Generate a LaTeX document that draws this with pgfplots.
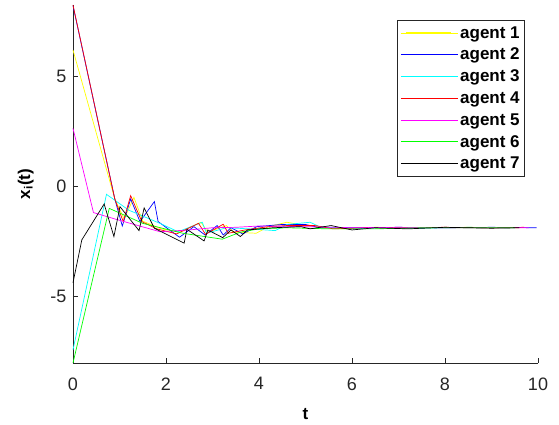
\documentclass[border=0pt]{standalone}
\usepackage{fontspec}
\setmainfont{Liberation Sans}
\usepackage{pgfplots}
\pgfplotsset{compat=1.18}
\definecolor{axgray}{rgb}{0.15,0.15,0.15}
\definecolor{cY}{rgb}{1,1,0}
\definecolor{cB}{rgb}{0,0,1}
\definecolor{cC}{rgb}{0,1,1}
\definecolor{cR}{rgb}{1,0,0}
\definecolor{cM}{rgb}{1,0,1}
\definecolor{cG}{rgb}{0,1,0}
\definecolor{cK}{rgb}{0,0,0}
\begin{document}
\begin{tikzpicture}
\begin{axis}[
  scale only axis,
  width=465pt, height=358pt,
  xmin=0, xmax=10, ymin=-8.05, ymax=8.23,
  axis lines*=left,
  axis line style={axgray, line width=0.6pt},
  tick style={axgray, line width=0.6pt},
  tick align=inside,
  major tick length=5pt,
  xtick={0,2,4,6,8,10},
  ytick={-5,0,5},
  /pgf/number format/assume math mode=true,
  tick label style={font=\fontsize{18}{21}\selectfont, text=axgray},
  xticklabel style={yshift=-11pt},
  yticklabel style={xshift=-3pt},
  xlabel={\textbf{t}},
  ylabel={\textbf{x\textsubscript{i}(t)}},
  label style={font=\fontsize{17}{20}\selectfont},
  xlabel style={yshift=-11pt},
  ylabel style={yshift=10pt},
  legend style={at={(0.972,0.958)}, anchor=north east, draw=axgray, line width=0.6pt,
    font=\fontsize{17}{20}\selectfont\bfseries, row sep=4.5pt, inner xsep=3pt, inner ysep=4pt},
  legend cell align=left,
  legend image code/.code={\path (0pt,0pt) -- (57pt,0pt);\draw[#1, line width=1.1pt] (5pt,0pt) -- (50pt,0pt);},
  every axis plot/.append style={line width=0.7pt},
  clip=false,
]
\addplot[color=cY] coordinates {(0,6.18) (0.9,-0.6) (1.1,-1.5) (1.31,-0.52) (1.5,-1.6) (1.9,-1.95) (2.3,-2.1) (2.75,-1.65) (2.9,-2.1) (3.3,-1.8) (3.45,-2.1) (3.94,-2.15) (4.2,-1.85) (4.6,-1.65) (5.0,-1.8) (5.8,-1.95) (6.5,-1.88) (7.5,-1.9) (8.5,-1.88) (9.6,-1.9)};
\addlegendentry{agent 1}
\addplot[color=cB] coordinates {(0,8.2) (0.9,-0.6) (1.06,-1.82) (1.24,-0.59) (1.44,-1.62) (1.75,-0.71) (1.83,-1.62) (2.29,-2.33) (2.6,-1.85) (2.84,-2.23) (3.1,-1.8) (3.23,-2.23) (3.4,-1.9) (3.65,-2.18) (3.95,-1.85) (4.5,-1.75) (5.0,-1.75) (5.3,-1.9) (6,-1.9) (7,-1.88) (8,-1.9) (9,-1.88) (9.97,-1.9)};
\addlegendentry{agent 2}
\addplot[color=cC] coordinates {(0,-7.45) (0.72,-0.38) (1.2,-1.1) (1.87,-1.7) (2.26,-2.08) (2.78,-1.65) (2.87,-2.15) (3.3,-1.9) (3.8,-1.95) (4.35,-2.03) (4.6,-1.75) (5.1,-1.65) (5.3,-1.85) (6.0,-1.95) (6.6,-1.9) (7.5,-1.92) (8.5,-1.88) (9.5,-1.9)};
\addlegendentry{agent 3}
\addplot[color=cR] coordinates {(0,8.23) (0.9,-0.6) (1.08,-1.62) (1.24,-0.44) (1.48,-1.62) (1.8,-1.95) (2.23,-2.18) (2.7,-1.7) (2.85,-2.2) (3.23,-1.74) (3.34,-2.15) (3.7,-2.0) (4.2,-1.85) (4.6,-1.8) (5.2,-1.8) (5.6,-1.95) (6.3,-1.9) (7.0,-1.9) (8.0,-1.88) (9.0,-1.9) (9.7,-1.88)};
\addlegendentry{agent 4}
\addplot[color=cM] coordinates {(0,2.62) (0.44,-1.21) (0.9,-1.5) (1.4,-1.8) (1.87,-2.08) (2.5,-2.0) (3.0,-1.9) (3.5,-1.88) (4.0,-1.82) (5,-1.85) (6,-1.9) (7,-1.88) (8,-1.9) (9,-1.9) (9.8,-1.9)};
\addlegendentry{agent 5}
\addplot[color=cG] coordinates {(0,-8.05) (0.78,-1.02) (1.5,-1.7) (2.36,-2.15) (3.21,-2.42) (3.6,-2.1) (4.0,-1.95) (4.6,-1.9) (5.5,-1.95) (6.5,-1.95) (7.5,-1.9) (8.5,-1.9) (9.5,-1.9)};
\addlegendentry{agent 6}
\addplot[color=cK] coordinates {(0,-4.4) (0.19,-2.45) (0.67,-0.82) (0.88,-2.3) (1.01,-0.94) (1.42,-2.03) (1.53,-1.0) (1.75,-1.92) (2.39,-2.6) (2.45,-1.97) (2.82,-2.5) (2.9,-2.0) (3.22,-2.35) (3.4,-2.0) (3.6,-2.3) (3.75,-2.0) (4.3,-1.9) (4.9,-1.85) (5.1,-1.95) (5.55,-1.8) (6.0,-2.0) (6.5,-1.9) (7.2,-1.95) (8,-1.88) (9,-1.92) (9.6,-1.9)};
\addlegendentry{agent 7}
\end{axis}
\pgfresetboundingbox
\path ([xshift=-73pt,yshift=-62pt]current axis.south west) rectangle ([xshift=21pt,yshift=5pt]current axis.north east);
\end{tikzpicture}
\end{document}
